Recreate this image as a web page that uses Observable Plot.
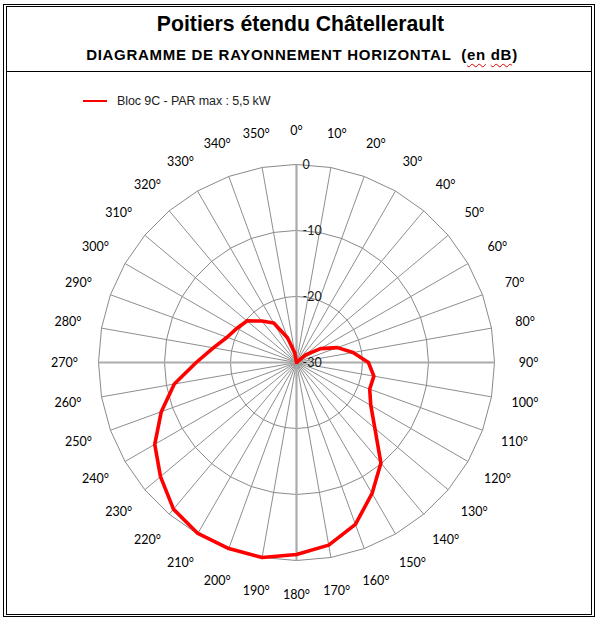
<!DOCTYPE html>
<html>
<head>
<meta charset="utf-8">
<script src="https://cdn.jsdelivr.net/npm/d3@7"></script>
<script src="https://cdn.jsdelivr.net/npm/@observablehq/plot@0.6"></script>
<style>
html, body { margin: 0; padding: 0; background: #fff; }
#page { position: relative; width: 599px; height: 622px; overflow: hidden; font-family: "Liberation Sans", Arial, sans-serif; color: #000; }
.frame { position: absolute; box-sizing: border-box; border: 1.4px solid #000; }
#outer { left: 3px; top: 3.5px; width: 592px; height: 613.5px; }
#inner { left: 5.6px; top: 6.2px; width: 586.8px; height: 608.6px; }
#sep { position: absolute; left: 6px; width: 586px; top: 71px; height: 0; border-top: 1.4px solid #000; }
.txt { position: absolute; white-space: nowrap; line-height: 1; }
#title { left: 0; width: 601px; text-align: center; top: 13.2px; font-size: 21.2px; font-weight: bold; }
#subtitle { left: 0; width: 604px; text-align: center; top: 47.3px; font-size: 15px; font-weight: bold; letter-spacing: 0.7px; }
.wavy { text-decoration: underline wavy #e00000; text-decoration-thickness: 1px; text-underline-offset: 3px; }
#legend { left: 0; top: 0; }
#legline { position: absolute; left: 83px; top: 100px; width: 24px; height: 0; border-top: 2.4px solid #ff0000; }
#legtext { left: 117px; top: 94.9px; font-size: 12.5px; color: #222; letter-spacing: -0.1px; }
#chart { position: absolute; left: 0; top: 112px; }
</style>
</head>
<body>
<div id="page">
  <div class="frame" id="outer"></div>
  <div class="frame" id="inner"></div>
  <div id="sep"></div>
  <div class="txt" id="title"></div>
  <div class="txt" id="subtitle"></div>
  <div id="legline"></div>
  <div class="txt" id="legtext"></div>
  <div id="chart"></div>
</div>
<script>
// ---- Data ----
const titleText = "Poitiers étendu Châtellerault";
const subtitleText = "DIAGRAMME DE RAYONNEMENT HORIZONTAL";
const subtitleUnitWords = ["en", "dB"];
const seriesName = "Bloc 9C - PAR max : 5,5 kW";

const angles = [0, 10, 20, 30, 40, 50, 60, 70, 80, 90, 100, 110, 120, 130, 140, 150, 160, 170,
                180, 190, 200, 210, 220, 230, 240, 250, 260, 270, 280, 290, 300, 310, 320, 330, 340, 350];
const attenuation = [-30, -30, -30, -30, -30, -28.2, -25.8, -23.4, -21.3, -19.1, -18.1, -18.2, -17.0, -14.5,
                     -10.1, -7.1, -3.9, -1.9, -0.9, 0, 0, -0.1, -1.0, -3.1, -5.2, -8.2, -11.2, -14.8,
                     -17.2, -18.8, -19.6, -20.2, -21.8, -23.1, -26.0, -28.5];
const angleLabels = angles.map(a => a + "°");
const ringLevels = [-20, -10, 0];
const tickLevels = [0, -10, -20, -30];
const cardinalAngles = [0, 90, 180, 270];

// ---- Header / legend text ----
document.getElementById("title").textContent = titleText;
const sub = document.getElementById("subtitle");
sub.appendChild(document.createTextNode(subtitleText + "\u00a0 ("));
const w1 = document.createElement("span"); w1.className = "wavy"; w1.textContent = subtitleUnitWords[0];
sub.appendChild(w1);
sub.appendChild(document.createTextNode(" "));
const w2 = document.createElement("span"); w2.className = "wavy"; w2.textContent = subtitleUnitWords[1];
sub.appendChild(w2);
sub.appendChild(document.createTextNode(")"));
document.getElementById("legtext").textContent = seriesName;

// ---- Polar helpers ----
const rScale = d3.scaleLinear().domain([-30, 0]).range([0, 198]).clamp(true);
const rad = a => a * Math.PI / 180;
const px = (a, v) => rScale(v) * Math.sin(rad(a));
const py = (a, v) => rScale(v) * Math.cos(rad(a));
const labelRadius = 232;

const series = angles.map((a, i) => ({angle: a, value: attenuation[i]}));
const rings = ringLevels.flatMap(level => angles.map(a => ({angle: a, level})));
const labels = angles.map((a, i) => ({angle: a, label: angleLabels[i]}));
const spokesThin = angles.filter(a => !cardinalAngles.includes(a));

const labelFont = "Lato, 'Liberation Sans', sans-serif";

const chart = Plot.plot({
  width: 599,
  height: 502,
  margin: 0,
  x: {domain: [-296, 303], axis: null},
  y: {domain: [-252, 250], axis: null},
  style: {background: "transparent", overflow: "visible"},
  marks: [
    Plot.line(rings, {
      x: d => px(d.angle, d.level), y: d => py(d.angle, d.level), z: "level",
      curve: "linear-closed", stroke: "#8a8a8a", strokeWidth: 1
    }),
    Plot.link(spokesThin, {
      x1: () => 0, y1: () => 0, x2: a => px(a, 0), y2: a => py(a, 0),
      stroke: "#8e8e8e", strokeWidth: 1
    }),
    Plot.link(cardinalAngles, {
      x1: () => 0, y1: () => 0, x2: a => px(a, 0), y2: a => py(a, 0),
      stroke: "#ababab", strokeWidth: 2.2
    }),
    Plot.line(series, {
      x: d => px(d.angle, d.value), y: d => py(d.angle, d.value),
      curve: "linear-closed", stroke: "#ff0000", strokeWidth: 3.6, strokeLinejoin: "round"
    }),
    Plot.text(tickLevels, {
      x: () => 0, y: v => py(0, v), text: v => String(v),
      dx: 6, textAnchor: "start", fontSize: 12.5, fontFamily: labelFont, fill: "#1a1a1a"
    }),
    Plot.text(labels, {
      x: d => labelRadius * Math.sin(rad(d.angle)), y: d => labelRadius * Math.cos(rad(d.angle)),
      text: "label", textAnchor: "middle", fontSize: 12.5, fontFamily: labelFont, fill: "#000"
    })
  ]
});
document.getElementById("chart").appendChild(chart);
</script>
</body>
</html>
